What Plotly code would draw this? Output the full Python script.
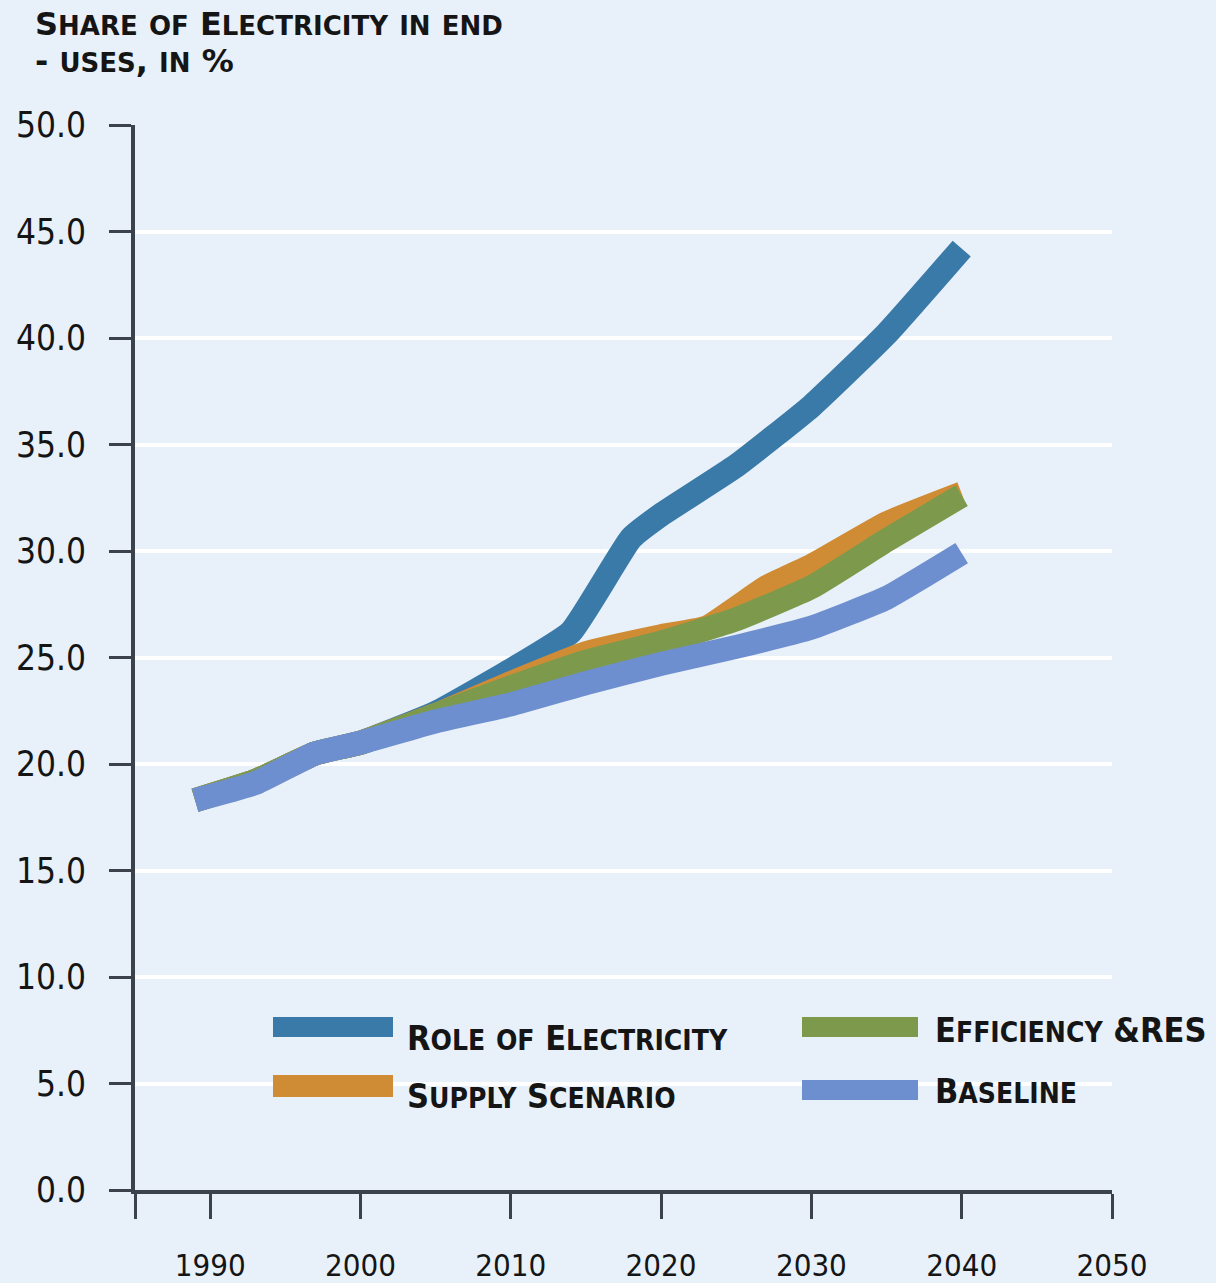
import plotly.graph_objects as go

# Scenario series: share of electricity in final energy use (%)
role_years = [1989, 1993, 1997, 2000, 2005, 2010, 2014, 2018, 2020, 2025, 2030, 2035, 2040]
role_vals = [18.3, 19.2, 20.5, 21.0, 22.4, 24.4, 26.2, 30.6, 31.7, 34.0, 36.8, 40.2, 44.2]

supply_years = [1989, 1993, 1997, 2000, 2005, 2010, 2015, 2020, 2023, 2027, 2030, 2035, 2040]
supply_vals = [18.3, 19.2, 20.5, 21.0, 22.3, 23.8, 25.2, 26.0, 26.4, 28.3, 29.3, 31.3, 32.7]

eff_years = [1989, 1993, 1997, 2000, 2005, 2010, 2015, 2020, 2025, 2030, 2035, 2040]
eff_vals = [18.3, 19.2, 20.5, 21.0, 22.3, 23.6, 24.8, 25.7, 26.8, 28.3, 30.5, 32.6]

base_years = [1989, 1993, 1997, 2000, 2005, 2010, 2015, 2020, 2025, 2030, 2035, 2040]
base_vals = [18.3, 19.1, 20.5, 21.0, 22.0, 22.8, 23.8, 24.7, 25.5, 26.4, 27.8, 29.9]

y_ticks = [0, 5, 10, 15, 20, 25, 30, 35, 40, 45, 50]
x_ticks = [1985, 1990, 2000, 2010, 2020, 2030, 2040, 2050]
x_tick_text = ["", "1990", "2000", "2010", "2020", "2030", "2040", "2050"]

BG = "#e8f1fa"
AXIS = "#3c424b"
TEXT = "#151515"
FONT = "DejaVu Sans Condensed, DejaVu Sans, sans-serif"
COLORS = {
    "role": "#3a7aa8",
    "supply": "#d08c35",
    "eff": "#7d9a4c",
    "base": "#6e8fcf",
}

# plot-area geometry in pixels, used to place paper-referenced items
L, R, T, B = 135, 104, 125, 93
W, H = 1216, 1283
PW, PH = W - L - R, H - T - B


def px(x):
    return (x - L) / PW


def py(y):
    return (H - B - y) / PH


def sc(text, size):
    """Small-caps style: lowercase letters rendered as smaller capitals."""
    out = []
    for ch in text:
        if ch.islower():
            out.append(f"<span style='font-size:{size}px'>{ch.upper()}</span>")
        else:
            out.append(ch)
    return "".join(out)


fig = go.Figure()

series = [
    (role_years, role_vals, COLORS["role"], "Role of Electricity"),
    (supply_years, supply_vals, COLORS["supply"], "Supply Scenario"),
    (eff_years, eff_vals, COLORS["eff"], "Efficiency &RES"),
    (base_years, base_vals, COLORS["base"], "Baseline"),
]
for xs, ys, col, name in series:
    fig.add_trace(go.Scatter(
        x=xs, y=ys, mode="lines", name=name,
        line=dict(color=col, width=24, shape="spline", smoothing=0.4),
        showlegend=False, hoverinfo="x+y+name",
    ))

# Legend: wide swatches with small-caps labels
legend_items = [
    # label, colour, swatch x0, x1, y-top, y-bottom, text x, text y
    ("Role of Electricity", COLORS["role"], 273, 393, 1017, 1037, 405, 1038),
    ("Supply Scenario", COLORS["supply"], 273, 393, 1075, 1097, 405, 1096),
    ("Efficiency &RES", COLORS["eff"], 802, 918, 1017, 1037, 933, 1030),
    ("Baseline", COLORS["base"], 802, 918, 1080, 1100, 933, 1091),
]
for label, col, sx0, sx1, sy0, sy1, tx, ty in legend_items:
    fig.add_shape(type="rect", xref="paper", yref="paper",
                  x0=px(sx0), x1=px(sx1), y0=py(sy1), y1=py(sy0),
                  fillcolor=col, line=dict(width=0), layer="above")
    fig.add_annotation(xref="paper", yref="paper", x=px(tx), y=py(ty),
                       text="<b>" + sc(label, 28) + "</b>", showarrow=False,
                       xanchor="left", yanchor="middle",
                       font=dict(family=FONT, size=34, color=TEXT))

# Two-line axis title, set as separate lines for tight leading
title_lines = [("Share of Electricity in end", 24), ("- uses, in %", 61)]
for line, ypos in title_lines:
    fig.add_annotation(xref="paper", yref="paper", x=px(33), y=py(ypos),
                       text="<b>" + sc(line, 26) + "</b>",
                       showarrow=False, xanchor="left", yanchor="middle",
                       font=dict(family="DejaVu Sans, sans-serif", size=32, color=TEXT))

fig.update_layout(
    width=W, height=H,
    margin=dict(l=L, r=R, t=T, b=B, autoexpand=False),
    paper_bgcolor=BG, plot_bgcolor=BG,
    xaxis=dict(
        range=[1985, 2050], tickvals=x_ticks, ticktext=x_tick_text,
        showgrid=False, zeroline=False, automargin=False,
        showline=True, linecolor=AXIS, linewidth=4,
        ticks="outside", ticklen=25, tickwidth=3, tickcolor=AXIS,
        ticklabelstandoff=20,
        tickfont=dict(family=FONT, size=31, color=TEXT),
    ),
    yaxis=dict(
        range=[0, 50], tickvals=y_ticks, tickformat=".1f",
        showgrid=True, gridcolor="#ffffff", gridwidth=4, zeroline=False,
        automargin=False,
        showline=True, linecolor=AXIS, linewidth=4,
        ticks="outside", ticklen=22, tickwidth=3, tickcolor=AXIS,
        ticklabelstandoff=16,
        tickfont=dict(family=FONT, size=35, color=TEXT),
    ),
)

fig.write_html("out.html")
